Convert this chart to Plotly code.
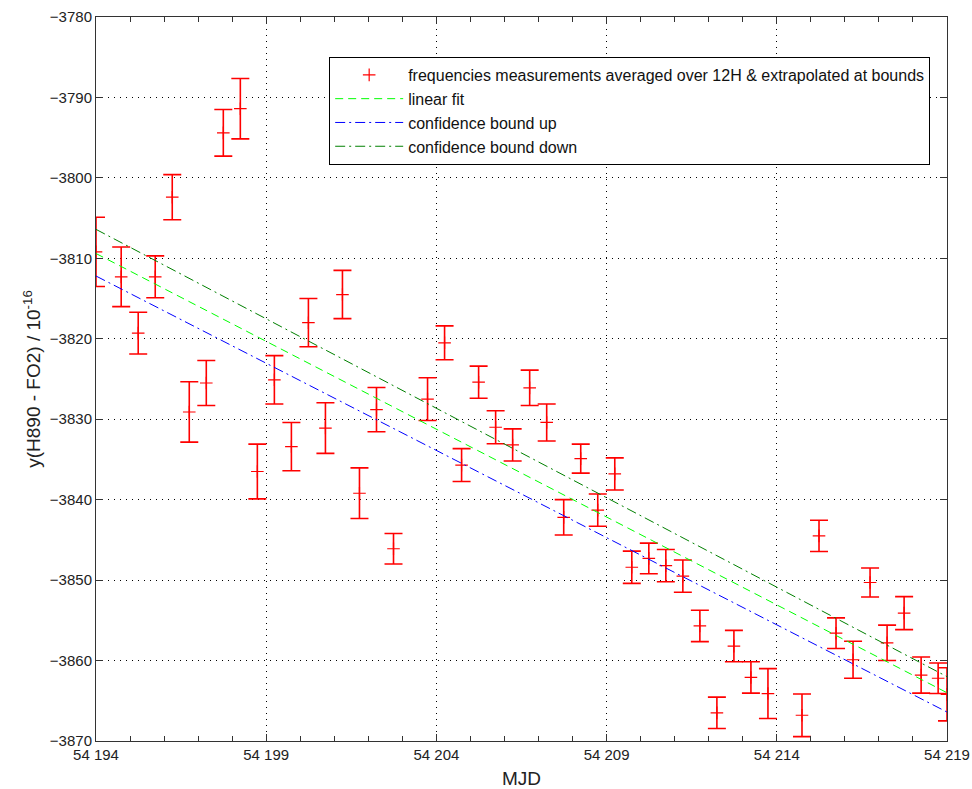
import plotly.graph_objects as go

# Measurements (MJD, value, half error)
mjd = [54194.0, 54194.74, 54195.24, 54195.74, 54196.24, 54196.74, 54197.24, 54197.74,
       54198.24, 54198.74, 54199.24, 54199.74, 54200.24, 54200.74, 54201.24, 54201.74,
       54202.24, 54202.74, 54203.74, 54204.24, 54204.74, 54205.24, 54205.74, 54206.24,
       54206.74, 54207.24, 54207.74, 54208.24, 54208.74, 54209.24, 54209.74, 54210.24,
       54210.74, 54211.24, 54211.74, 54212.24, 54212.74, 54213.24, 54213.74, 54214.74,
       54215.24, 54215.74, 54216.24, 54216.74, 54217.24, 54217.74, 54218.24, 54218.74,
       54219.0]
freq = [-3809.2, -3812.3, -3819.3, -3812.3, -3802.4, -3829.1, -3825.5, -3794.4,
        -3791.4, -3836.5, -3825.1, -3833.4, -3818.0, -3831.1, -3814.5, -3839.2,
        -3828.8, -3846.1, -3827.5, -3820.5, -3835.7, -3825.4, -3831.0, -3833.2,
        -3826.1, -3830.4, -3842.2, -3834.9, -3841.3, -3836.8, -3848.4, -3847.3,
        -3848.2, -3849.5, -3855.7, -3866.5, -3858.2, -3862.1, -3864.1, -3866.8,
        -3844.5, -3856.6, -3859.9, -3850.3, -3857.8, -3854.1, -3861.8, -3862.2,
        -3864.2]
err = [4.3, 3.7, 2.6, 2.6, 2.8, 3.75, 2.8, 2.9,
       3.75, 3.4, 3.0, 3.0, 3.0, 3.15, 3.0, 3.15,
       2.75, 1.9, 2.65, 2.1, 2.05, 2.0, 2.05, 2.0,
       2.2, 2.3, 2.2, 1.8, 2.0, 2.0, 2.0, 1.9,
       2.0, 2.0, 1.95, 1.95, 1.95, 1.95, 3.1, 2.65,
       1.95, 1.9, 2.3, 1.8, 2.2, 2.05, 2.25, 1.9,
       3.3]

fit_x = [54194, 54219]
fit_y = [-3809.4, -3864.0]
up_y = [-3812.2, -3866.4]
down_y = [-3806.4, -3862.0]

x_ticks = [54194, 54199, 54204, 54209, 54214, 54219]
x_ticktext = ["54 194", "54 199", "54 204", "54 209", "54 214", "54 219"]
y_ticks = [-3870, -3860, -3850, -3840, -3830, -3820, -3810, -3800, -3790, -3780]

FONT = "Liberation Sans, Arial"

fig = go.Figure()
fig.add_trace(go.Scatter(
    x=mjd, y=freq, mode="markers",
    name="frequencies measurements averaged over 12H & extrapolated at bounds",
    marker=dict(symbol="cross-thin", size=9, line=dict(color="#ff0000", width=1.2), color="#ff0000"),
    error_y=dict(type="data", array=err, visible=True, color="#ff0000", thickness=1.6, width=9),
    cliponaxis=True,
))
fig.add_trace(go.Scatter(x=fit_x, y=fit_y, mode="lines", name="linear fit",
                         line=dict(color="#00ff00", width=1, dash="8px,5px")))
fig.add_trace(go.Scatter(x=fit_x, y=up_y, mode="lines", name="confidence bound up",
                         line=dict(color="#0000ff", width=1, dash="10px,4px,2px,4px")))
fig.add_trace(go.Scatter(x=fit_x, y=down_y, mode="lines", name="confidence bound down",
                         line=dict(color="#008000", width=1, dash="10px,4px,2px,4px")))

axis_common = dict(
    showline=True, linecolor="#333333", linewidth=1, mirror="allticks",
    ticks="inside", tickcolor="#333333", ticklen=7, automargin=False,
    showgrid=True, gridcolor="#000000", gridwidth=1, griddash="1px,5px",
    zeroline=False, tickfont=dict(family=FONT, size=15, color="#222222"),
)

fig.update_xaxes(
    range=[54194, 54219], tickmode="array", tickvals=x_ticks, ticktext=x_ticktext,
    minor=dict(dtick=1, tick0=54194, ticks="inside", ticklen=5, tickcolor="#333333", showgrid=False),
    title=dict(text="MJD", font=dict(family=FONT, size=19, color="#222222"), standoff=10),
    **axis_common,
)
fig.update_yaxes(
    range=[-3870, -3780], tickmode="array", tickvals=y_ticks,
    title=dict(text="y(H890 - FO2) / 10<sup>-16</sup>", font=dict(family=FONT, size=19, color="#222222"), standoff=4),
    **axis_common,
)

fig.update_layout(
    width=972, height=789,
    margin=dict(l=96, r=25, t=17, b=48, autoexpand=False),
    plot_bgcolor="white", paper_bgcolor="white",
    showlegend=True,
    legend=dict(x=0.274, y=0.9448, xanchor="left", yanchor="top",
                bordercolor="#000000", borderwidth=1, bgcolor="white",
                itemwidth=68,
                font=dict(family=FONT, size=16, color="#111111")),
)

fig.write_html("out.html", config={"displayModeBar": False},
               post_script="document.body.style.margin='0';document.body.style.overflow='hidden';")
